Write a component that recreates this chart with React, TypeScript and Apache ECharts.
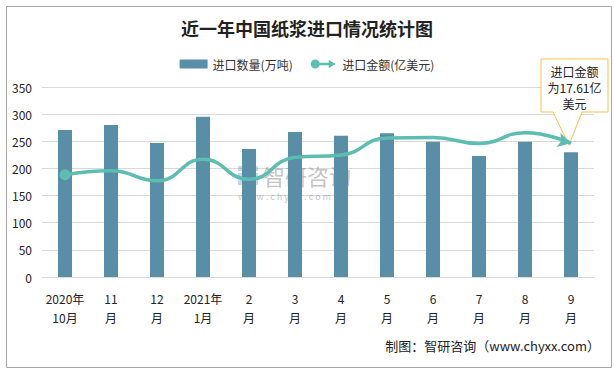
import React, { useEffect, useRef } from "react";
import * as echarts from "echarts";

const categories = ["2020年\n10月", "11\n月", "12\n月", "2021年\n1月", "2\n月", "3\n月", "4\n月", "5\n月", "6\n月", "7\n月", "8\n月", "9\n月"];
const quantity = [271, 280, 247, 295, 236, 267, 260, 265, 249, 223, 249, 230];
const amount = [13.46, 13.98, 12.66, 15.48, 12.86, 15.74, 16.05, 18.29, 18.36, 17.57, 18.98, 17.61];
const yTicks = { min: 0, max: 350, interval: 50 };
const y2Range = { min: 0, max: 25 };

const FONT = "'Noto Sans CJK SC', 'Noto Sans', sans-serif";
const BAR = "#588ea6";
const LINE = "#5cbdb1";

export default function App() {
  const ref = useRef<HTMLDivElement>(null);
  useEffect(() => {
    const chart = echarts.init(ref.current!, undefined, { renderer: "svg" });
    const lineData = amount.map((v, i) => {
      if (i === 0) return { value: v, symbol: "circle", symbolSize: 11 };
      if (i === amount.length - 1) return { value: v, symbol: "arrow", symbolSize: [11, 13], symbolRotate: -105 };
      return { value: v, symbol: "none" };
    });
    chart.setOption({
      animation: false,
      textStyle: { fontFamily: FONT },
      title: {
        text: "近一年中国纸浆进口情况统计图",
        left: "center",
        top: 14,
        textStyle: { fontSize: 18, fontWeight: "bold", color: "#222", fontFamily: "'Noto Sans CJK SC', serif" },
      },
      legend: {
        top: 53,
        left: "center",
        itemGap: 18,
        itemWidth: 28,
        itemHeight: 9,
        textStyle: { fontSize: 12, color: "#333", fontFamily: FONT },
        data: [
          { name: "进口数量(万吨)", icon: "rect" },
          { name: "进口金额(亿美元)", icon: "path://M0,5 A5,5 0 1,1 10,5 A5,5 0 1,1 0,5 Z M8,3.5 L20,3.5 L20,0.5 L28,5 L20,9.5 L20,6.5 L8,6.5 Z" },
        ],
      },
      grid: { left: 42, right: 20, top: 87, bottom: 92 },
      xAxis: {
        type: "category",
        data: categories,
        axisLine: { lineStyle: { color: "#d9d9d9" } },
        axisTick: { show: false },
        axisLabel: { color: "#222", fontSize: 12, lineHeight: 19, margin: 12, interval: 0 },
      },
      yAxis: [
        {
          type: "value",
          min: yTicks.min,
          max: yTicks.max,
          interval: yTicks.interval,
          axisLine: { show: false },
          axisTick: { show: false },
          axisLabel: { color: "#222", fontSize: 12, margin: 10 },
          splitLine: { lineStyle: { color: "#d9d9d9" } },
        },
        { type: "value", min: y2Range.min, max: y2Range.max, show: false, splitLine: { show: false } },
      ],
      series: [
        {
          name: "进口数量(万吨)",
          type: "bar",
          data: quantity,
          barWidth: 14,
          itemStyle: { color: BAR },
        },
        {
          name: "进口金额(亿美元)",
          type: "line",
          yAxisIndex: 1,
          smooth: 0.5,
          data: lineData,
          lineStyle: { color: LINE, width: 3.5 },
          itemStyle: { color: LINE },
          z: 5,
        },
      ],
    });
    const last = amount.length - 1;
    const tip = chart.convertToPixel({ xAxisIndex: 0, yAxisIndex: 1 }, [last, amount[last]]) as number[];
    const bx = 541, by = 59, bw = 67, bh = 53;
    chart.setOption({
      graphic: [
        {
          type: "rect",
          left: 4,
          top: 4,
          shape: { width: 605, height: 361 },
          style: { fill: "none", stroke: "#a6a6a6", lineWidth: 1 },
          silent: true,
          z: -1,
        },
        {
          type: "group",
          z: 100,
          children: [
            {
              type: "polygon",
              shape: {
                points: [
                  [bx, by], [bx + bw, by], [bx + bw, by + bh], [bx + 41, by + bh],
                  [tip[0] - 2, tip[1] + 2], [bx + 12, by + bh], [bx, by + bh],
                ],
              },
              style: { fill: "#fff", stroke: "#f5c342", lineWidth: 1 },
            },
            {
              type: "text",
              x: bx + bw / 2,
              y: by + 4,
              style: {
                text: "进口金额\n为17.61亿\n美元",
                align: "center",
                verticalAlign: "top",
                fontSize: 12,
                lineHeight: 16,
                fill: "#222",
                fontFamily: FONT,
              },
            },
          ],
        },
        {
          type: "group",
          z: 0,
          silent: true,
          children: [
            { type: "rect", x: 238, y: 166, shape: { width: 20, height: 5 }, style: { fill: "rgba(90,140,200,0.35)" } },
            { type: "rect", x: 238, y: 173, shape: { width: 20, height: 5 }, style: { fill: "rgba(90,140,200,0.35)" } },
            { type: "rect", x: 238, y: 180, shape: { width: 20, height: 5 }, style: { fill: "rgba(90,140,200,0.35)" } },
            {
              type: "text",
              x: 263,
              y: 164,
              style: { text: "智研咨询", fontSize: 22, fill: "rgba(120,120,120,0.45)", fontFamily: FONT, verticalAlign: "top" },
            },
            {
              type: "text",
              x: 238,
              y: 192,
              style: { text: "w w w . c h y x x . c o m", fontSize: 9, fill: "rgba(120,120,120,0.45)", fontFamily: FONT, verticalAlign: "top" },
            },
          ],
        },
        {
          type: "text",
          right: 14,
          top: 339,
          style: { text: "制图：智研咨询（www.chyxx.com）", fontSize: 13, fill: "#222", fontFamily: FONT },
        },
      ],
    });
    return () => chart.dispose();
  }, []);
  return <div ref={ref} style={{ width: 614, height: 369, position: "absolute", left: 0, top: 0 }} />;
}
